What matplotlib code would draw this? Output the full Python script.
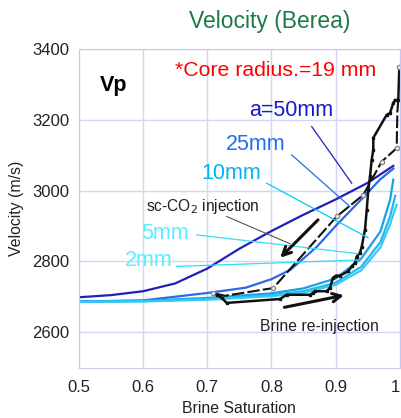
import matplotlib
matplotlib.use("Agg")
import matplotlib.pyplot as plt

plt.rcParams['font.family'] = ['Liberation Sans', 'DejaVu Sans']

# model curves (brine saturation, velocity m/s)
sw_50 = [0.5, 0.55, 0.6, 0.65, 0.7, 0.75, 0.8, 0.85, 0.9, 0.95, 0.99]
vp_50 = [2699, 2705, 2716, 2738, 2780, 2836, 2886, 2932, 2975, 3022, 3070]
sw_25 = [0.5, 0.6, 0.7, 0.76, 0.8, 0.83, 0.87, 0.9, 0.94, 0.969, 0.99]
vp_25 = [2687, 2690, 2711, 2726, 2750, 2777, 2840, 2900, 2975, 3031, 3062]
sw_10 = [0.5, 0.6, 0.7, 0.8, 0.85, 0.9, 0.94, 0.97, 0.985, 0.99]
vp_10 = [2687, 2689, 2697, 2710, 2724, 2752, 2808, 2885, 2974, 3031]
sw_5 = [0.5, 0.6, 0.7, 0.8, 0.85, 0.9, 0.94, 0.97, 0.985, 0.993]
vp_5 = [2686, 2688, 2694, 2705, 2716, 2740, 2785, 2855, 2927, 2985]
sw_2 = [0.5, 0.6, 0.7, 0.8, 0.85, 0.9, 0.94, 0.97, 0.985, 0.995]
vp_2 = [2686, 2687, 2692, 2702, 2712, 2734, 2775, 2840, 2905, 2960]

# measured: brine re-injection path (solid)
sw_brine = [0.7147, 0.7225, 0.7303, 0.8134, 0.8238, 0.8601, 0.8648, 0.8679, 0.8862,
            0.8913, 0.896, 0.9007, 0.9069, 0.9194, 0.9252, 0.9303, 0.933, 0.9381,
            0.9408, 0.9459, 0.9486, 0.951, 0.9537, 0.9563, 0.9588, 0.9588, 0.9797,
            0.9849, 0.99, 0.9927, 0.9978, 0.9994]
vp_brine = [2706, 2697, 2683, 2694, 2706, 2706, 2712, 2716, 2716,
            2726, 2754, 2760, 2760, 2772, 2786, 2796, 2814, 2825,
            2842, 2890, 2946, 3002, 3040, 3087, 3115, 3149, 3214,
            3219, 3248, 3256, 3256, 3350]
# measured: sc-CO2 injection path (dashed)
sw_co2 = [0.9978, 0.9963, 0.9953, 0.9719, 0.9432, 0.9018, 0.8029, 0.7276, 0.7085]
vp_co2 = [3256, 3222, 3120, 3082, 2988, 2927, 2725, 2703, 2711]

fig = plt.figure(figsize=(4.02, 4.18), dpi=100)
ax = fig.add_axes([0.1965, 0.1203, 0.7978, 0.7625])

c50, c25, c10, c5, c2 = '#2020b8', '#2a6ae8', '#1a9fe8', '#22b8ee', '#35cbf2'
ax.plot(sw_50, vp_50, color=c50, lw=1.6)
ax.plot(sw_25, vp_25, color=c25, lw=1.6)
ax.plot(sw_10, vp_10, color=c10, lw=1.6)
ax.plot(sw_5, vp_5, color=c5, lw=1.6)
ax.plot(sw_2, vp_2, color=c2, lw=1.6)

ax.plot(sw_co2, vp_co2, color='#111111', lw=1.5, ls=(0, (6, 1.5)),
        marker='o', ms=3, mfc='white', mec='#888888', markevery=[2, 3, 4, 5, 6, 8])
ax.plot(sw_brine, vp_brine, color='#111111', lw=1.8, marker='s', ms=1.8)
ax.plot(sw_brine[-1:], vp_brine[-1:], marker='o', ms=3, mfc='white', mec='#888888', ls='none')

ax.set_xlim(0.5, 1.0)
ax.set_ylim(2500, 3400)
ax.set_xticks([0.5, 0.6, 0.7, 0.8, 0.9, 1.0])
ax.set_xticklabels(['0.5', '0.6', '0.7', '0.8', '0.9', '1'])
ax.set_yticks([2600, 2800, 3000, 3200, 3400])
ax.tick_params(length=0, labelsize=12, colors='#222222')
ax.tick_params(axis='y', pad=7)
ax.tick_params(axis='x', pad=9)
ax.get_xticklabels()[-1].set_ha('right')
ax.grid(True, color='#d4d4f8', lw=1)
for s in ax.spines.values():
    s.set_color('#c8c8f4')
ax.set_xlabel('Brine Saturation', fontsize=11.4, color='#222222', labelpad=4)
ax.set_ylabel('Velocity (m/s)', fontsize=11.4, color='#222222', labelpad=6)

fig.text(0.672, 0.948, 'Velocity (Berea)', color='#1e7a45', fontsize=16.5,
         ha='center', va='center')
ax.text(0.5538, 3296, 'Vp', fontsize=15.5, fontweight='bold', ha='center', va='center')
ax.text(0.8071, 3338, '*Core radius.=19 mm', color='red', fontsize=15.3,
        ha='center', va='center')

ax.text(0.8305, 3225, 'a=50mm', color='#1a1acc', fontsize=15.5, ha='center', va='center')
ax.plot([0.8628, 0.9252], [3181, 3021], color=c50, lw=0.9)
ax.text(0.7752, 3129, '25mm', color='#1f6ff0', fontsize=15.5, ha='center', va='center')
ax.plot([0.8316, 0.9225], [3101, 2955], color=c25, lw=0.9)
ax.text(0.7378, 3049, '10mm', color='#00b4f0', fontsize=15.5, ha='center', va='center')
ax.plot([0.7926, 0.9506], [3021, 2867], color='#00c8f8', lw=0.9)
ax.text(0.6341, 2878, '5mm', color='#55f0ff', fontsize=15.5, ha='center', va='center')
ax.plot([0.6835, 0.935], [2875, 2822], color='#30e0f0', lw=0.9)
ax.text(0.6091, 2804, '2mm', color='#55f0ff', fontsize=15.5, ha='center', va='center')
ax.plot([0.6523, 0.9334], [2786, 2804], color='#30e0f0', lw=0.9)

ax.text(0.6933, 2954, 'sc-CO$_2$ injection', fontsize=11.2, ha='center', va='center',
        color='#222222')
ax.plot([0.7303, 0.829], [2927, 2850], color='#555555', lw=0.8)
ax.annotate('', xy=(0.8107, 2805), xytext=(0.8757, 2923),
            arrowprops=dict(arrowstyle='->,head_length=0.6,head_width=0.3',
                            color='#111111', lw=2.2))
ax.annotate('', xy=(0.9174, 2706), xytext=(0.816, 2669),
            arrowprops=dict(arrowstyle='->,head_length=0.6,head_width=0.3',
                            color='#111111', lw=2.2))
ax.text(0.8742, 2617, 'Brine re-injection', fontsize=11.3, ha='center', va='center',
        color='#222222')

fig.savefig('out.png', dpi=100)
